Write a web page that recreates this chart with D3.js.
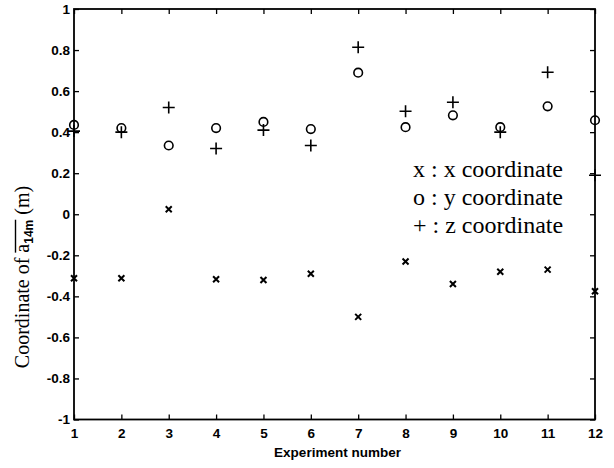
<!DOCTYPE html>
<html><head><meta charset="utf-8">
<script src="https://cdn.jsdelivr.net/npm/d3@7"></script>
<style>body{margin:0;background:#fff}</style>
</head><body><svg id="c" width="614" height="468"></svg>
<script>
// Coordinates of the estimated point for each experiment
const experiments = [1, 2, 3, 4, 5, 6, 7, 8, 9, 10, 11, 12];
const xCoord = [-0.312, -0.312, 0.024, -0.317, -0.32, -0.29, -0.50, -0.23, -0.34, -0.28, -0.27, -0.375];
const yCoord = [0.435, 0.42, 0.335, 0.42, 0.45, 0.415, 0.69, 0.424, 0.482, 0.424, 0.526, 0.458];
const zCoord = [0.405, 0.40, 0.52, 0.32, 0.41, 0.335, 0.814, 0.502, 0.546, 0.40, 0.692, 0.19];
const yTicks = [-1, -0.8, -0.6, -0.4, -0.2, 0, 0.2, 0.4, 0.6, 0.8, 1];
const yTickLabels = ["-1", "-0.8", "-0.6", "-0.4", "-0.2", "0", "0.2", "0.4", "0.6", "0.8", "1"];
const legendLines = ["x : x coordinate", "o : y coordinate", "+ : z coordinate"];

const svg = d3.select("#c");
const x = d3.scaleLinear().domain([1, 12]).range([74, 595]);
const y = d3.scaleLinear().domain([-1, 1]).range([419.5, 9]);

const tickFont = "'Liberation Sans', Arial, sans-serif";
const serif = "'Liberation Serif', 'Times New Roman', serif";

// inward ticks on all four sides
const axLeft = svg.append("g").attr("transform", `translate(${x.range()[0]},0)`)
  .call(d3.axisLeft(y).tickValues(yTicks)
    .tickFormat((d, i) => yTickLabels[i]).tickSizeInner(-5).tickSizeOuter(0).tickPadding(4));
const axBottom = svg.append("g").attr("transform", `translate(0,${y.range()[0]})`)
  .call(d3.axisBottom(x).tickValues(experiments).tickFormat(d3.format("d"))
    .tickSizeInner(-5).tickSizeOuter(0).tickPadding(9));
const axTop = svg.append("g").attr("transform", `translate(0,${y.range()[1]})`)
  .call(d3.axisTop(x).tickValues(experiments).tickFormat("").tickSizeInner(-5).tickSizeOuter(0));
const axRight = svg.append("g").attr("transform", `translate(${x.range()[1]},0)`)
  .call(d3.axisRight(y).tickValues(yTicks).tickFormat("").tickSizeInner(-5).tickSizeOuter(0));

[axLeft, axBottom, axTop, axRight].forEach(g => {
  g.select(".domain").remove();
  g.selectAll(".tick line").attr("stroke", "#000").attr("stroke-width", 1.3);
  g.selectAll("text").attr("fill", "#000").style("font-family", tickFont)
    .style("font-size", "13.5px").style("font-weight", "bold");
});

// plot frame
svg.append("rect")
  .attr("x", x.range()[0]).attr("y", y.range()[1])
  .attr("width", x.range()[1] - x.range()[0]).attr("height", y.range()[0] - y.range()[1])
  .attr("fill", "none").attr("stroke", "#000").attr("stroke-width", 1.8);

// x coordinate markers (small crosses)
svg.append("g").selectAll("path").data(xCoord).join("path")
  .attr("transform", (d, i) => `translate(${x(experiments[i])},${y(d)})`)
  .attr("d", "M-3,-3L3,3M-3,3L3,-3")
  .attr("stroke", "#000").attr("stroke-width", 2).attr("fill", "none");

// y coordinate markers (circles)
svg.append("g").selectAll("circle").data(yCoord).join("circle")
  .attr("cx", (d, i) => x(experiments[i])).attr("cy", d => y(d)).attr("r", 4.3)
  .attr("fill", "none").attr("stroke", "#000").attr("stroke-width", 1.6);

// z coordinate markers (plus signs)
svg.append("g").selectAll("path").data(zCoord).join("path")
  .attr("transform", (d, i) => `translate(${x(experiments[i])},${y(d)})`)
  .attr("d", "M-6,0L6,0M0,-6L0,6")
  .attr("stroke", "#000").attr("stroke-width", 1.6).attr("fill", "none");

// legend text
svg.append("g").selectAll("text").data(legendLines).join("text")
  .attr("x", 413).attr("y", (d, i) => 177 + i * 28)
  .style("font-family", serif).style("font-size", "24px").attr("fill", "#000")
  .text(d => d);

// x axis title
svg.append("text")
  .attr("x", (x.range()[0] + x.range()[1]) / 2 + 3).attr("y", 457)
  .attr("text-anchor", "middle")
  .style("font-family", tickFont).style("font-size", "13.5px").style("font-weight", "bold")
  .text("Experiment number");

// y axis title with overlined, subscripted symbol
const yl = svg.append("g").attr("transform", "translate(29,277) rotate(-90)");
const yt = yl.append("text").attr("text-anchor", "middle")
  .style("font-family", serif).style("font-size", "20px").attr("fill", "#000");
yt.append("tspan").text("Coordinate of ");
yt.append("tspan").text("a");
yt.append("tspan").attr("dy", 4).style("font-size", "12px").style("font-family", tickFont)
  .style("font-weight", "bold").text("14m");
yt.append("tspan").attr("dy", -4).text(" (m)");
const node = yt.node();
const sx = node.getStartPositionOfChar(14).x;
const ex = node.getEndPositionOfChar(17).x;
yl.append("line").attr("x1", sx).attr("x2", ex).attr("y1", -13.5).attr("y2", -13.5)
  .attr("stroke", "#000").attr("stroke-width", 1.4);
</script>
</body></html>
